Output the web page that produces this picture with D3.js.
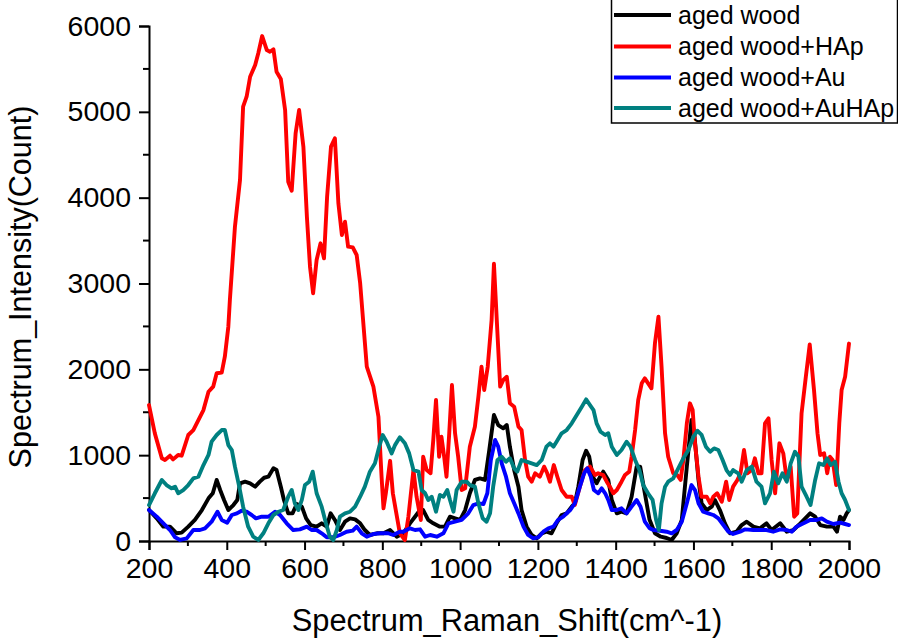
<!DOCTYPE html>
<html>
<head>
<meta charset="utf-8">
<script src="https://cdn.jsdelivr.net/npm/d3@7"></script>
<style>
  html, body { margin: 0; padding: 0; background: #fff; }
  svg { display: block; font-family: "Liberation Sans", Arial, sans-serif; }
</style>
</head>
<body>
<svg id="chart" width="898" height="641"></svg>
<script>
// ---- data (Raman shift cm^-1, intensity count) ----
const seriesNames = ["aged wood", "aged wood+HAp", "aged wood+Au", "aged wood+AuHAp"];
const seriesColors = ["#000000", "#ff0000", "#0000ff", "#008080"];
const xTickValues = [200, 400, 600, 800, 1000, 1200, 1400, 1600, 1800, 2000];
const yTickValues = [0, 1000, 2000, 3000, 4000, 5000, 6000];

const agedWood = [[200,361],[220,264],[237,167],[254,167],[271,90],[284,97],[301,167],[318,245],[336,361],[353,497],[364,556],[374,711],[383,594],[393,478],[404,361],[417,419],[427,478],[434,672],[447,691],[460,672],[473,633],[485,691],[496,737],[507,749],[520,847],[528,827],[539,633],[547,478],[558,322],[569,322],[580,431],[593,400],[604,264],[616,186],[631,167],[644,206],[657,167],[667,322],[678,245],[691,128],[704,225],[717,264],[730,252],[743,206],[755,128],[768,70],[786,90],[803,90],[820,128],[837,50],[854,90],[871,206],[884,283],[897,361],[905,361],[918,245],[931,206],[948,167],[961,167],[974,283],[987,264],[1000,245],[1013,361],[1025,556],[1038,711],[1051,730],[1064,711],[1075,1060],[1087,1468],[1098,1351],[1111,1313],[1120,1351],[1128,1099],[1139,827],[1150,633],[1158,361],[1171,167],[1184,70],[1197,31],[1210,90],[1222,108],[1235,90],[1248,206],[1261,303],[1274,322],[1287,400],[1295,439],[1304,633],[1315,944],[1324,1052],[1332,982],[1341,749],[1351,672],[1360,749],[1368,808],[1381,711],[1390,478],[1403,322],[1415,341],[1428,322],[1441,516],[1454,866],[1463,866],[1475,556],[1487,250],[1501,90],[1516,50],[1531,35],[1544,12],[1557,90],[1570,245],[1583,866],[1595,1410],[1602,1255],[1613,711],[1621,439],[1634,361],[1647,400],[1655,478],[1668,361],[1681,206],[1694,90],[1711,108],[1724,186],[1737,225],[1754,167],[1771,148],[1788,206],[1801,128],[1823,206],[1840,108],[1857,128],[1875,206],[1900,322],[1913,283],[1926,186],[1943,167],[1960,167],[1969,108],[1977,283],[1986,245],[1994,322],[2000,361]];

const agedWoodHAp = [[200,1584],[215,1254],[233,963],[241,944],[254,994],[262,951],[275,1002],[284,994],[301,1235],[314,1293],[340,1526],[353,1739],[365,1798],[374,1954],[387,1961],[395,2147],[404,2497],[408,2808],[421,3662],[434,4206],[442,5060],[451,5176],[460,5409],[473,5545],[481,5682],[491,5883],[503,5720],[511,5700],[520,5728],[528,5467],[539,5382],[550,5021],[558,4186],[567,4081],[577,4750],[586,5021],[597,4594],[606,3778],[614,3196],[622,2886],[631,3274],[641,3468],[650,3293],[658,4011],[668,4594],[678,4691],[687,3934],[696,3565],[704,3720],[712,3429],[724,3421],[734,3332],[743,3002],[760,2031],[777,1798],[790,1448],[798,749],[803,381],[809,556],[820,934],[827,556],[833,400],[845,90],[858,12],[867,283],[880,827],[888,516],[899,245],[905,982],[914,827],[924,789],[931,1177],[938,1643],[946,982],[952,1215],[959,982],[965,749],[972,1255],[979,1817],[987,1255],[995,982],[1004,594],[1013,614],[1025,1099],[1038,1332],[1047,1681],[1055,2031],[1062,1759],[1071,2031],[1081,2575],[1087,3230],[1096,2420],[1103,1798],[1111,1876],[1120,1914],[1128,1604],[1139,1565],[1150,1332],[1158,1293],[1167,944],[1175,749],[1184,691],[1193,789],[1205,749],[1216,866],[1224,789],[1231,691],[1241,885],[1250,749],[1261,594],[1274,516],[1287,516],[1295,419],[1308,633],[1321,827],[1334,866],[1347,769],[1355,789],[1368,769],[1377,691],[1385,633],[1394,556],[1403,594],[1415,691],[1424,769],[1435,808],[1441,982],[1450,1293],[1458,1643],[1467,1837],[1475,1895],[1492,1779],[1501,2303],[1510,2613],[1518,2031],[1527,1255],[1535,982],[1548,789],[1558,769],[1567,711],[1574,944],[1583,1371],[1591,1604],[1598,1526],[1604,1138],[1613,749],[1621,516],[1634,516],[1643,439],[1651,516],[1661,556],[1673,458],[1684,691],[1692,478],[1702,633],[1713,711],[1721,789],[1730,1060],[1739,789],[1750,827],[1758,963],[1767,789],[1775,789],[1784,1371],[1793,1429],[1801,944],[1810,556],[1821,1138],[1831,1021],[1840,711],[1850,866],[1859,283],[1867,322],[1878,1487],[1889,1914],[1899,2290],[1910,1759],[1919,1255],[1926,1002],[1936,1021],[1944,789],[1951,982],[1958,944],[1967,652],[1975,1371],[1981,1759],[1990,1914],[2000,2300]];

const agedWoodAu = [[200,361],[220,283],[237,206],[254,128],[267,43],[280,12],[297,31],[314,128],[331,128],[344,148],[361,225],[376,341],[387,245],[401,214],[413,303],[426,322],[438,353],[451,341],[464,303],[475,264],[490,283],[507,283],[524,341],[537,303],[554,206],[571,128],[588,136],[606,167],[618,128],[631,128],[644,90],[657,43],[674,43],[691,70],[708,108],[724,120],[734,167],[747,90],[760,50],[777,82],[794,90],[815,90],[828,70],[845,108],[854,108],[871,148],[884,128],[897,136],[910,50],[923,70],[940,50],[957,90],[970,206],[987,225],[1004,245],[1021,322],[1034,419],[1047,439],[1060,431],[1070,556],[1079,944],[1090,1177],[1098,1099],[1107,905],[1118,749],[1128,556],[1139,439],[1150,322],[1163,167],[1175,70],[1188,31],[1201,43],[1214,108],[1227,148],[1240,167],[1252,245],[1265,283],[1283,361],[1295,439],[1308,633],[1319,789],[1327,847],[1336,749],[1344,594],[1355,556],[1364,614],[1373,556],[1381,478],[1390,361],[1403,361],[1415,381],[1428,322],[1441,400],[1454,478],[1464,400],[1475,225],[1487,150],[1497,128],[1514,120],[1531,108],[1544,90],[1557,128],[1570,225],[1583,439],[1595,652],[1604,594],[1613,439],[1625,341],[1638,322],[1651,303],[1664,264],[1677,186],[1690,108],[1702,82],[1720,108],[1733,136],[1754,128],[1771,128],[1788,128],[1805,108],[1823,136],[1840,128],[1853,108],[1865,167],[1883,206],[1900,245],[1917,245],[1930,264],[1943,225],[1960,198],[1977,214],[1990,198],[2000,186]];

const agedWoodAuHAp = [[200,419],[215,556],[233,711],[245,652],[258,614],[267,633],[275,556],[288,594],[301,652],[314,730],[327,749],[340,885],[353,1002],[361,1157],[374,1235],[387,1293],[395,1293],[404,1118],[413,1060],[421,866],[432,633],[442,400],[455,167],[468,50],[481,12],[494,90],[507,206],[520,303],[533,341],[545,361],[558,516],[567,594],[575,439],[584,361],[593,478],[601,652],[612,691],[621,808],[631,556],[644,400],[655,206],[665,50],[674,12],[683,128],[691,283],[704,322],[717,341],[730,400],[743,516],[755,633],[768,808],[781,905],[792,1099],[801,1235],[811,1157],[824,1021],[833,1120],[845,1208],[858,1138],[869,1021],[880,827],[893,808],[901,594],[910,556],[918,478],[927,516],[938,341],[948,536],[957,516],[967,594],[974,478],[983,341],[991,594],[1004,691],[1017,691],[1025,652],[1038,633],[1047,439],[1058,264],[1068,225],[1077,322],[1085,633],[1096,944],[1107,982],[1118,924],[1128,963],[1139,847],[1147,808],[1158,944],[1171,924],[1184,905],[1197,885],[1210,944],[1222,1099],[1231,1138],[1240,1099],[1248,1157],[1261,1255],[1274,1293],[1287,1371],[1300,1468],[1313,1565],[1324,1650],[1334,1584],[1343,1526],[1351,1371],[1361,1274],[1373,1235],[1381,1255],[1390,1099],[1403,1002],[1415,1060],[1428,1157],[1438,1099],[1450,944],[1461,827],[1471,650],[1484,550],[1495,478],[1504,245],[1511,128],[1518,439],[1527,633],[1535,691],[1548,730],[1561,847],[1574,963],[1587,1060],[1600,1215],[1610,1285],[1621,1235],[1632,1099],[1643,1040],[1653,1079],[1664,1060],[1675,944],[1685,827],[1694,769],[1702,827],[1715,789],[1724,691],[1737,827],[1750,866],[1762,691],[1775,633],[1784,439],[1797,556],[1807,808],[1818,672],[1829,789],[1840,691],[1850,905],[1861,1040],[1870,982],[1878,633],[1891,516],[1901,419],[1913,711],[1923,905],[1934,885],[1944,963],[1953,885],[1964,924],[1973,691],[1981,556],[1990,478],[2000,361]];

const allSeries = [agedWood, agedWoodHAp, agedWoodAu, agedWoodAuHAp];

// ---- layout ----
const svg = d3.select("#chart");
const plotLeft = 149, plotRight = 849, plotTop = 26, plotBottom = 541;

const x = d3.scaleLinear().domain([200, 2000]).range([plotLeft, plotRight]);
const y = d3.scaleLinear().domain([0, 6000]).range([plotBottom, plotTop]);

// minor ticks
const xMinor = d3.range(300, 2000, 200);
const yMinor = d3.range(500, 6000, 1000);

const axisG = svg.append("g");

// x axis
const xAxis = axisG.append("g")
  .attr("transform", `translate(0,${plotBottom})`)
  .call(d3.axisBottom(x).tickValues(xTickValues).tickFormat(d3.format("d")).tickSizeOuter(0).tickSize(9).tickPadding(8));
xAxis.append("g").selectAll("line").data(xMinor).join("line")
  .attr("x1", d => x(d)).attr("x2", d => x(d)).attr("y1", 0).attr("y2", 5)
  .attr("stroke", "#000").attr("stroke-width", 2);

// y axis
const yAxis = axisG.append("g")
  .attr("transform", `translate(${plotLeft},0)`)
  .call(d3.axisLeft(y).tickValues(yTickValues).tickFormat(d3.format("d")).tickSizeOuter(0).tickSize(10).tickPadding(8));
yAxis.append("g").selectAll("line").data(yMinor).join("line")
  .attr("x1", 0).attr("x2", -6).attr("y1", d => y(d)).attr("y2", d => y(d))
  .attr("stroke", "#000").attr("stroke-width", 2);

axisG.selectAll(".domain").attr("stroke", "#000").attr("stroke-width", 2);
axisG.selectAll(".tick line").attr("stroke", "#000").attr("stroke-width", 2);
axisG.selectAll(".tick text")
  .attr("fill", "#000")
  .style("font-family", '"Liberation Sans", Arial, sans-serif')
  .style("font-size", "28.5px");

// lines
const line = d3.line().x(d => x(d[0])).y(d => y(d[1])).curve(d3.curveLinear);
const linesG = svg.append("g");
allSeries.forEach((s, i) => {
  linesG.append("path")
    .datum(s)
    .attr("d", line)
    .attr("fill", "none")
    .attr("stroke", seriesColors[i])
    .attr("stroke-width", 3.9)
    .attr("stroke-linejoin", "round")
    .attr("stroke-linecap", "round");
});

// axis titles
svg.append("text")
  .attr("x", 507)
  .attr("y", 631)
  .attr("text-anchor", "middle")
  .style("font-size", "30.8px")
  .text("Spectrum_Raman_Shift(cm^-1)");

svg.append("text")
  .attr("transform", `translate(31,287) rotate(-90)`)
  .attr("text-anchor", "middle")
  .style("font-size", "30.5px")
  .text("Spectrum_Intensity(Count)");

// legend
const legend = svg.append("g");
legend.append("rect")
  .attr("x", 611.5).attr("y", -1).attr("width", 286).attr("height", 124)
  .attr("fill", "#fff").attr("stroke", "#000").attr("stroke-width", 1.5);
const rowY = [15, 46.5, 77.5, 108];
seriesNames.forEach((name, i) => {
  legend.append("line")
    .attr("x1", 614).attr("x2", 671)
    .attr("y1", rowY[i]).attr("y2", rowY[i])
    .attr("stroke", seriesColors[i]).attr("stroke-width", 4);
  legend.append("text")
    .attr("x", 678).attr("y", rowY[i])
    .attr("dy", "0.35em")
    .style("font-size", "25px")
    .text(name);
});
</script>
</body>
</html>
